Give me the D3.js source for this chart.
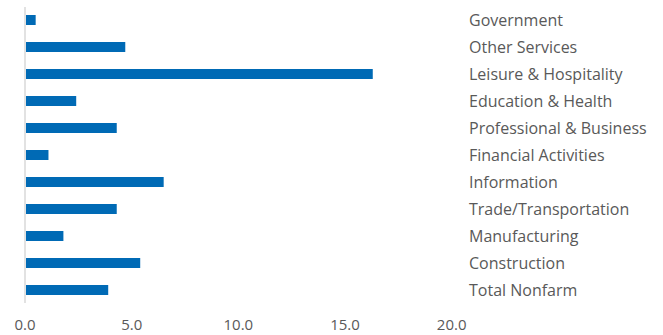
<!DOCTYPE html>
<meta charset="utf-8">
<style>
body { margin: 0; background: #fff; }
text { font-family: "Open Sans", Lato, sans-serif; fill: #595959; }
</style>
<script src="https://d3js.org/d3.v7.min.js"></script>
<body>
<script>

var width = 663, height = 335

// top to bottom, as in the chart
var categories = ['Government','Other Services','Leisure & Hospitality','Education & Health',
  'Professional & Business','Financial Activities','Information','Trade/Transportation',
  'Manufacturing','Construction','Total Nonfarm']
var values = [0.5, 4.7, 16.3, 2.4, 4.3, 1.1, 6.5, 4.3, 1.8, 5.4, 3.9]
var ticks = [0, 5, 10, 15, 20]

var svg = d3.select('body').append('svg').attr('width', width).attr('height', height)

var x = d3.scaleLinear().domain([0, 20]).range([25, 451.7])
var y = d3.scaleBand().domain(categories).range([6.5, 303.5]).paddingInner(17/27).paddingOuter(17/54)

svg.append('g').selectAll('rect')
  .data(values)
  .enter().append('rect')
  .attr('x', x(0) + 1)
  .attr('y', (d, i) => y(categories[i]))
  .attr('width', d => x(d) - x(0) - 1)
  .attr('height', y.bandwidth())
  .attr('fill', '#006ab5')

svg.append('line')
  .attr('x1', x(0)).attr('x2', x(0))
  .attr('y1', 7).attr('y2', 303)
  .attr('stroke', '#d9d9d9').attr('stroke-width', 1.5)

svg.append('g').selectAll('text')
  .data(categories)
  .enter().append('text')
  .attr('x', 469)
  .attr('y', d => y(d) + y.bandwidth() / 2 + 0.5)
  .attr('dy', '.35em')
  .style('font-size', '16px')
  .text(d => d)

svg.append('g').selectAll('text')
  .data(ticks)
  .enter().append('text')
  .attr('x', d => x(d))
  .attr('y', 325)
  .attr('dy', '.35em')
  .attr('text-anchor', 'middle')
  .style('font-size', '15px')
  .text(d => d.toFixed(1))

</script>
